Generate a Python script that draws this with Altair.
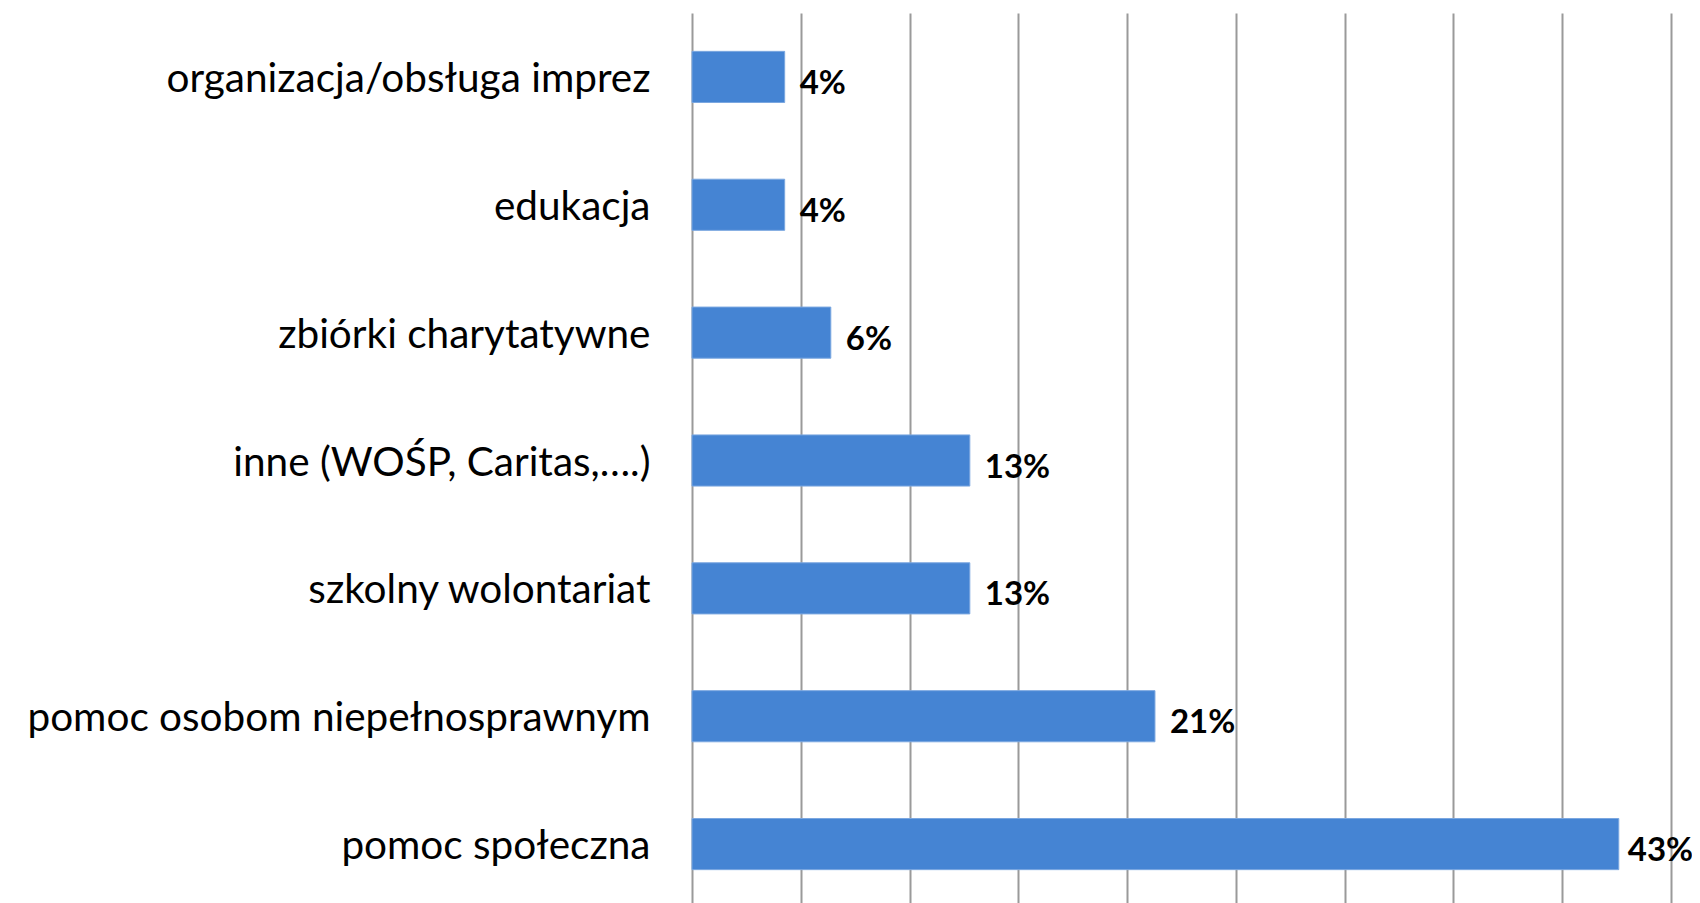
import altair as alt
import pandas as pd

categories = [
    "organizacja/obsługa imprez",
    "edukacja",
    "zbiórki charytatywne",
    "inne (WOŚP, Caritas,….)\u00a0",
    "szkolny wolontariat",
    "pomoc osobom niepełnosprawnym",
    "pomoc społeczna",
]
values = [4.26, 4.26, 6.38, 12.77, 12.77, 21.28, 42.6]
labels = ["4%", "4%", "6%", "13%", "13%", "21%", "43%"]

df = pd.DataFrame({"cat": categories, "val": values, "lab": labels})

FONT = "Lato"

base = alt.Chart(df).encode(
    y=alt.Y(
        "cat:N",
        sort=categories,
        title=None,
        scale=alt.Scale(paddingInner=0.6, paddingOuter=0.3),
        axis=alt.Axis(
            domain=False,
            ticks=False,
            grid=False,
            labelFont=FONT,
            labelFontSize=40.5,
            labelColor="#000000",
            labelPadding=42,
            labelOffset=3,
            labelLimit=900,
        ),
    ),
    x=alt.X(
        "val:Q",
        title=None,
        scale=alt.Scale(domain=[0, 45], nice=False),
        axis=alt.Axis(
            values=[0, 5, 10, 15, 20, 25, 30, 35, 40, 45],
            labels=False,
            ticks=False,
            domain=False,
            grid=True,
            gridColor="#9a9a9a",
            gridWidth=2,
        ),
    ),
)

bars = base.mark_bar(color="#4584D3", stroke="#7ba7e0", strokeWidth=1)
text_style = dict(align="left", baseline="middle", dy=7, font=FONT,
                  fontSize=33, fontWeight="bold", color="#000000")
text_main = base.transform_filter("datum.val < 40").mark_text(dx=15, **text_style).encode(text="lab:N")
text_last = base.transform_filter("datum.val >= 40").mark_text(dx=9, **text_style).encode(text="lab:N")

chart = (
    (bars + text_main + text_last)
    .properties(
        width=979,
        height=895,
        autosize=alt.AutoSizeParams(type="none"),
        padding={"left": 684, "top": 5, "right": 21, "bottom": 0},
    )
    .configure_view(strokeWidth=0, stroke="transparent")
)

chart.save("out.html", embed_options={"renderer": "svg", "actions": False})
